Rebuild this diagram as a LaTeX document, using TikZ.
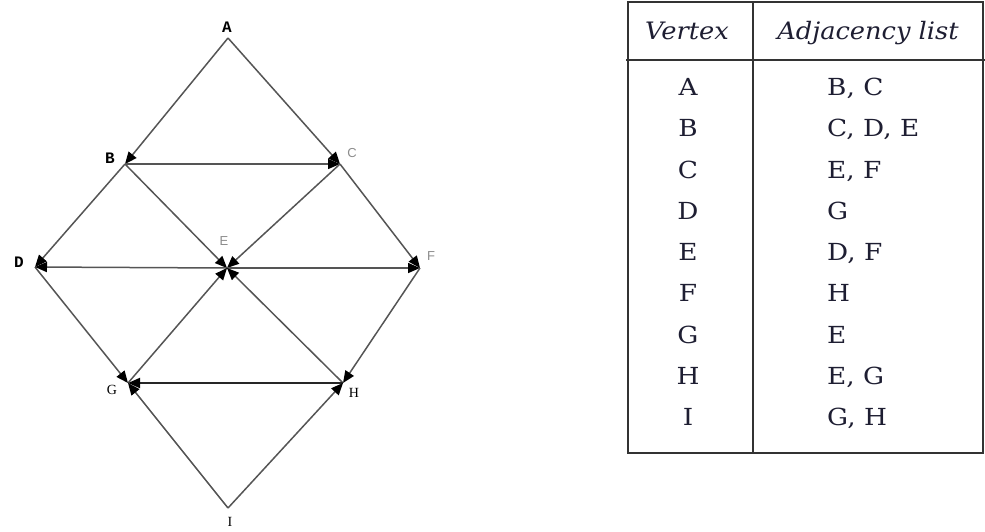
\documentclass[tikz,border=0pt]{standalone}
\usepackage{fontspec}
\setmainfont{DejaVu Serif}
\newfontfamily\tabfont[FakeStretch=1.12]{DejaVu Serif}
\newfontfamily\tabhead[FakeStretch=1.07]{DejaVu Serif}
\newfontfamily\labmono{Liberation Mono}
\newfontfamily\labsans{Liberation Sans}
\newfontfamily\labserif{Liberation Serif}
\usetikzlibrary{arrows.meta}
\definecolor{inkc}{RGB}{30,30,50}
\definecolor{edgec}{RGB}{85,85,85}
\begin{document}
\begin{tikzpicture}[x=1pt,y=-1pt,
  edge/.style={draw=edgec, line width=1.5pt,
    -{Triangle[length=12pt,width=10pt,color=black]}},
  darkedge/.style={edge, draw=black!85, line width=1.9pt},
  labA/.style={font=\labmono\bfseries\fontsize{16}{16}\selectfont, inner sep=0pt},
  labC/.style={font=\labsans\fontsize{13}{13}\selectfont, text=black!45, inner sep=0pt},
  labG/.style={font=\labserif\fontsize{14}{14}\selectfont, inner sep=0pt},
  cell/.style={font=\tabfont\fontsize{23.5}{23.5}\selectfont, text=inkc, inner sep=0pt, anchor=base},
  celll/.style={cell, anchor=base west},
  head/.style={font=\tabhead\itshape\fontsize{24}{24}\selectfont, text=inkc, inner sep=0pt, anchor=base},
  rule/.style={draw=black!80, line width=2pt}
]
\useasboundingbox (0,0) rectangle (985,531);
% vertices
\coordinate (A) at (228,38);
\coordinate (B) at (125,164);
\coordinate (C) at (340,164);
\coordinate (D) at (35,267);
\coordinate (E) at (227,268);
\coordinate (F) at (420,268);
\coordinate (G) at (128,383);
\coordinate (H) at (343,383);
\coordinate (I) at (228,508);
% labels
\node[labA] (lA) at (227,27) {A};
\node[labA] (lB) at (110,158) {B};
\node[labC] (lC) at (352,153) {C};
\node[labA] (lD) at (19,262) {D};
\node[labC] (lE) at (224,241) {E};
\node[labC] (lF) at (431,256) {F};
\node[labG] (lG) at (112,390) {G};
\node[labG] (lH) at (354,393) {H};
\node[labG] (lI) at (230,522) {I};
% edges
\draw[edge] (A) -- (B);
\draw[edge] (A) -- (C);
\draw[edge] (B) -- (C);
\draw[edge] (B) -- (D);
\draw[edge] (B) -- (E);
\draw[edge] (C) -- (E);
\draw[edge] (C) -- (F);
\draw[edge] (D) -- (G);
\draw[edge] (E) -- (D);
\draw[edge] (E) -- (F);
\draw[edge] (F) -- (H);
\draw[edge] (G) -- (E);
\draw[edge] (H) -- (E);
\draw[darkedge] (H) -- (G);
\draw[edge] (I) -- (G);
\draw[edge] (I) -- (H);
% table frame
\coordinate (tl) at (628,2);
\coordinate (br) at (983,453);
\coordinate (mt) at (753,2);
\coordinate (mb) at (753,453);
\coordinate (hl) at (626,60);
\coordinate (hr) at (985,60);
\draw[rule] (tl) rectangle (br);
\draw[rule] (mt) -- (mb);
\draw[rule, line width=2.6pt] (hl) -- (hr);
% header
\node[head] (hv) at (687,39) {Vertex};
\node[head] (ha) at (868,39) {Adjacency list};
% rows
\foreach \v/\l [count=\i from 0] in {A/{B, C},B/{C, D, E},C/{E, F},D/G,E/{D, F},F/H,G/E,H/{E, G},I/{G, H}}{
  \node[cell] (v\i) at (688,{95.5+41.25*\i}) {\v};
  \node[celll] (a\i) at (827,{95.5+41.25*\i}) {\l};
}
\end{tikzpicture}
\end{document}
